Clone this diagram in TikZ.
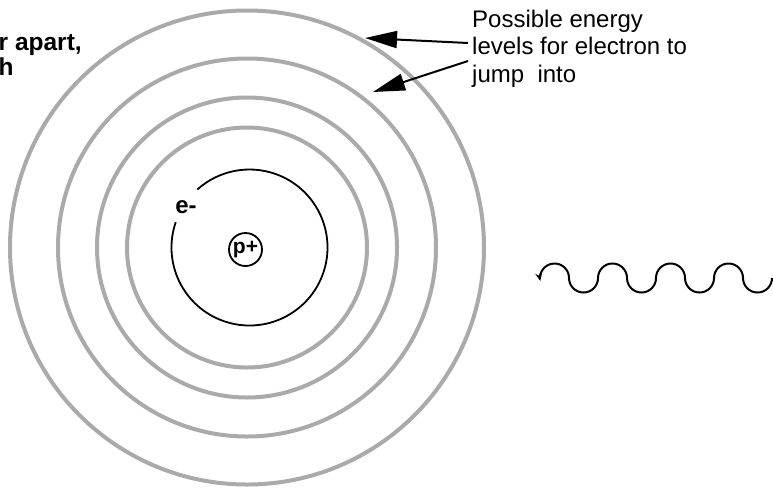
\documentclass[tikz,border=0pt]{standalone}
\usepackage{fontspec}
\setmainfont{Liberation Sans}
\usetikzlibrary{arrows.meta}
\definecolor{ringgray}{RGB}{170,170,170}
\begin{document}
\begin{tikzpicture}[x=1pt,y=-1pt,
  ring/.style={draw=ringgray,line width=4pt},
  orbit/.style={draw=black,line width=1.8pt},
  lbl/.style={inner sep=0pt,align=left,font=\fontsize{24}{27.5}\selectfont},
  boldlbl/.style={inner sep=0pt,align=left,font=\fontsize{24.5}{25}\selectfont\bfseries},
  pointer/.style={draw=black,line width=2pt,-{Triangle[length=32pt,width=17pt]}},
  wave/.style={draw=black,line width=2pt,-{Stealth[length=8pt,width=7pt]}}]
\useasboundingbox (0,0) rectangle (773,488);
% energy level rings
\coordinate (c) at (247,247.5);
\draw[ring] (c) circle (237pt);
\draw[ring] (c) circle (189pt);
\draw[ring] (c) circle (150pt);
\draw[ring] (c) circle (120pt);
% electron orbit with gap
\coordinate (oc) at (249.5,247.5);
\draw[orbit] ([shift={(161:78pt)}]oc) arc[start angle=161,end angle=492,radius=78pt];
\node[inner sep=0pt,font=\fontsize{24}{24}\selectfont\bfseries] (e) at (186,207) {e-};
% nucleus
\node[draw=black,line width=1.8pt,circle,minimum size=33pt,inner sep=0pt,font=\fontsize{21}{21}\selectfont\bfseries] (p) at (245.5,249.5) {p+};
% left clipped text
\node[boldlbl,anchor=base west] (lt) at (-1.5,75) {r apart,\\h};
% right label and pointers
\node[lbl,anchor=base west] (lvl) at (472,82) {Possible energy\\levels for electron to\\jump\ \ into};
\coordinate (s1) at (468,43);
\coordinate (t1) at (365,38);
\coordinate (s2) at (468,61);
\coordinate (t2) at (373,92);
\draw[pointer] (s1) -- (t1);
\draw[pointer] (s2) -- (t2);
% photon wave
\coordinate (w0) at (772,278);
\draw[wave] (w0)
  arc[start angle=0,end angle=-180,radius=14.5pt]
  arc[start angle=0,end angle=180,radius=14.5pt]
  arc[start angle=0,end angle=-180,radius=14.5pt]
  arc[start angle=0,end angle=180,radius=14.5pt]
  arc[start angle=0,end angle=-180,radius=14.5pt]
  arc[start angle=0,end angle=180,radius=14.5pt]
  arc[start angle=0,end angle=-180,radius=14.5pt]
  arc[start angle=0,end angle=192,radius=14.5pt];
\end{tikzpicture}
\end{document}
